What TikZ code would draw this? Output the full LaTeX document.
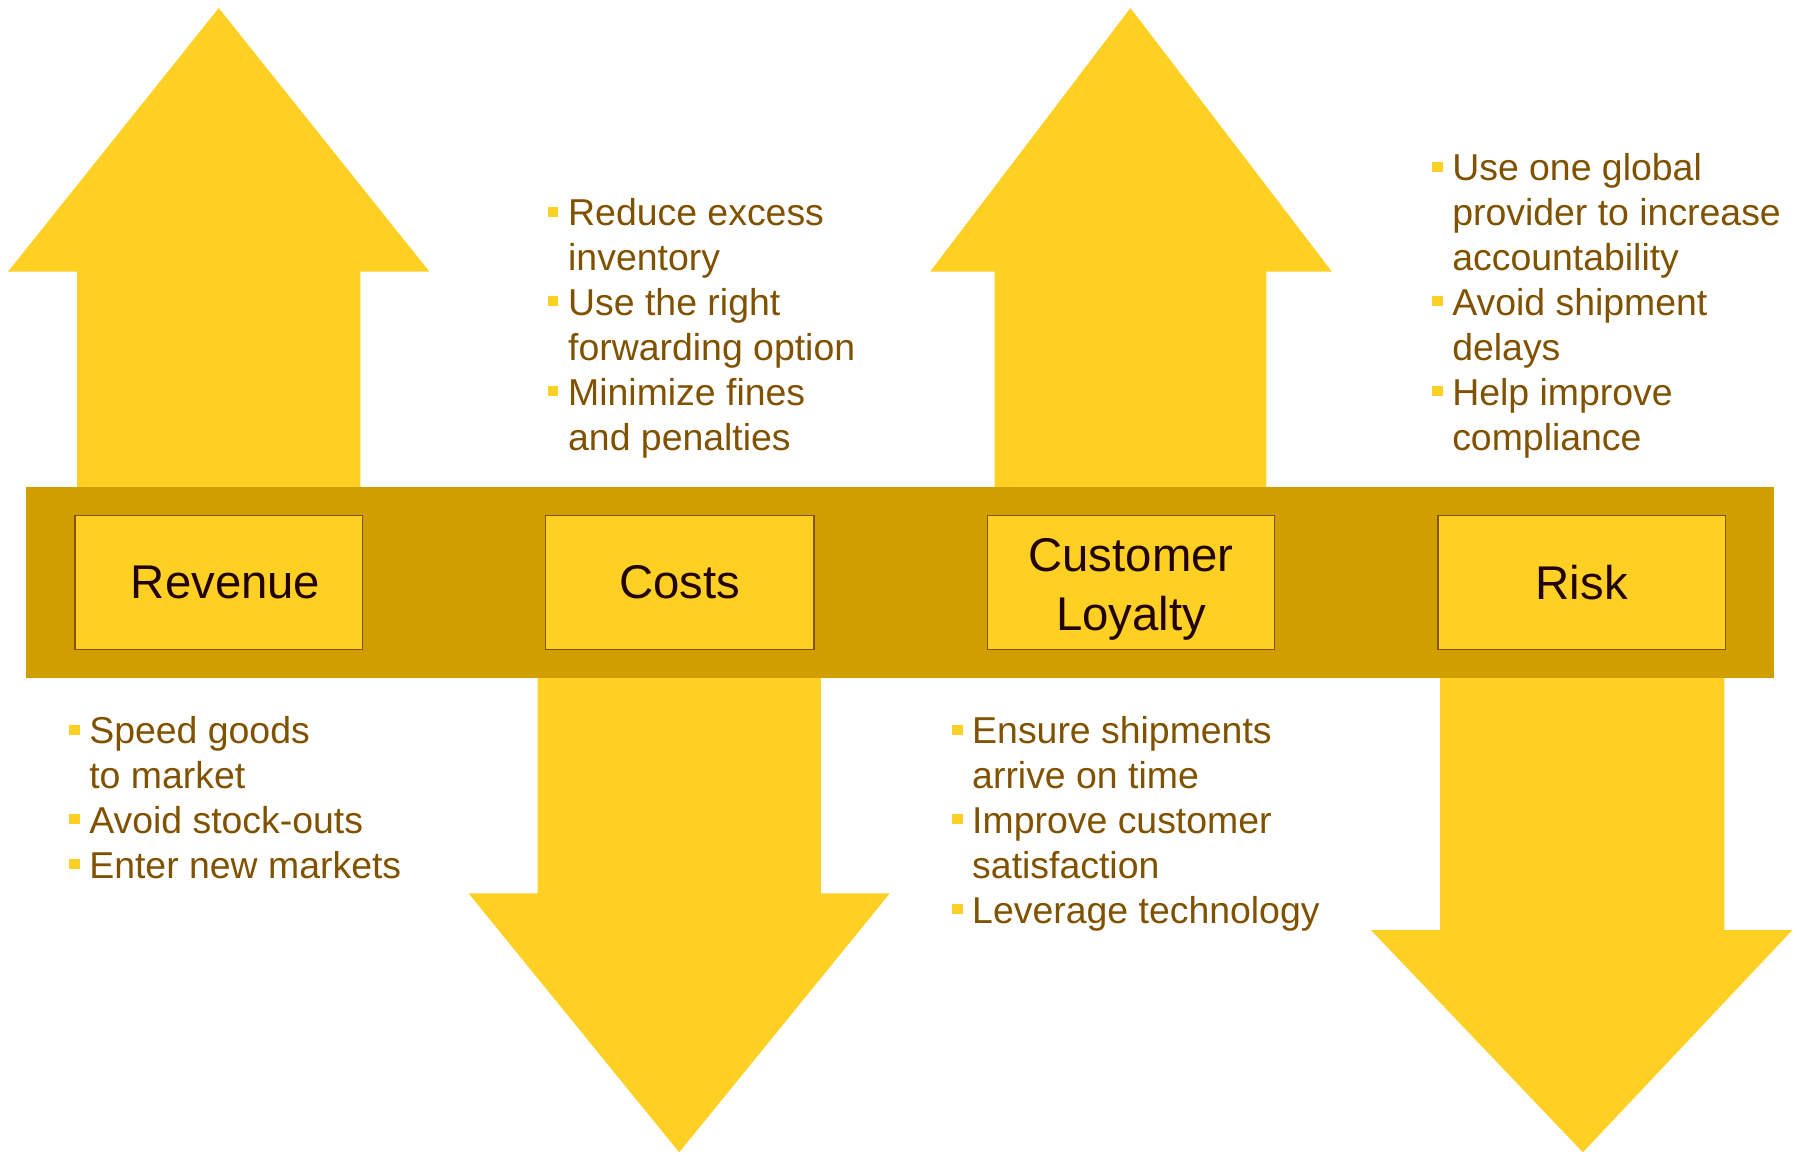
\documentclass[tikz,border=0pt]{standalone}
\usepackage{fontspec}
\setmainfont{Liberation Sans}
\usetikzlibrary{positioning}
\definecolor{arrowyellow}{RGB}{254,208,36}
\definecolor{bandgold}{RGB}{209,158,0}
\definecolor{itembrown}{RGB}{128,82,0}
\definecolor{labeldark}{RGB}{34,2,0}
\definecolor{boxedge}{RGB}{130,84,0}
\newcommand{\blt}{\textcolor{arrowyellow}{\rule[0.24em]{0.27em}{0.27em}}}
\tikzset{
  driver/.style={draw=boxedge, line width=0.7pt, fill=arrowyellow, text=labeldark,
    minimum width=142pt, minimum height=66pt, inner sep=0pt, align=center,
    font=\fontsize{23.4}{29}\selectfont},
  points/.style={anchor=base west, inner sep=0pt, text=itembrown,
    font=\fontsize{18.5}{22.2}\selectfont},
}

\begin{document}
\begin{tikzpicture}[x=0.02cm, y=-0.02cm]
\useasboundingbox (0,0) rectangle (1568,1003);
\fill[arrowyellow] (190,7) -- (373,236) -- (313,236) -- (313,500) -- (67,500) -- (67,236) -- (7,236) -- cycle;
\fill[arrowyellow] (467,500) -- (713,500) -- (713,776) -- (773,776) -- (590,1001) -- (407,776) -- (467,776) -- cycle;
\fill[arrowyellow] (982,7) -- (1157,236) -- (1100,236) -- (1100,500) -- (864,500) -- (864,236) -- (808,236) -- cycle;
\fill[arrowyellow] (1251,500) -- (1498,500) -- (1498,808) -- (1557,808) -- (1375,1001) -- (1191,808) -- (1251,808) -- cycle;
\fill[bandgold] (23,423) rectangle (1541,589);

\node[driver] (revenue) at (190,506) {\hspace*{6.8pt}Revenue};
\node[driver, minimum width=132.6pt] (costs) at (590.5,506) {Costs};
\node[driver] (loyalty) at (982.5,506) {\rule{0pt}{23.3pt}Customer\\Loyalty};
\node[driver] (risk) at (1374,506) {Risk};

\node[points] (revpts) at (60,646) {\begin{tabular}[t]{@{}l@{\hspace{0.26em}}l@{}}
\blt & Speed goods\\ & to market\\ \blt & Avoid stock-outs\\ \blt & Enter new markets
\end{tabular}};
\node[points] (costpts) at (476,196) {\begin{tabular}[t]{@{}l@{\hspace{0.26em}}l@{}}
\blt & Reduce excess\\ & inventory\\ \blt & Use the right\\ & forwarding option\\ \blt & Minimize fines\\ & and penalties
\end{tabular}};
\node[points] (loyalpts) at (827,646) {\begin{tabular}[t]{@{}l@{\hspace{0.26em}}l@{}}
\blt & Ensure shipments\\ & arrive on time\\ \blt & Improve customer\\ & satisfaction\\ \blt & Leverage technology
\end{tabular}};
\node[points] (riskpts) at (1244,157) {\begin{tabular}[t]{@{}l@{\hspace{0.26em}}l@{}}
\blt & Use one global\\ & provider to increase\\ & accountability\\ \blt & Avoid shipment\\ & delays\\ \blt & Help improve\\ & compliance
\end{tabular}};
\end{tikzpicture}
\end{document}
